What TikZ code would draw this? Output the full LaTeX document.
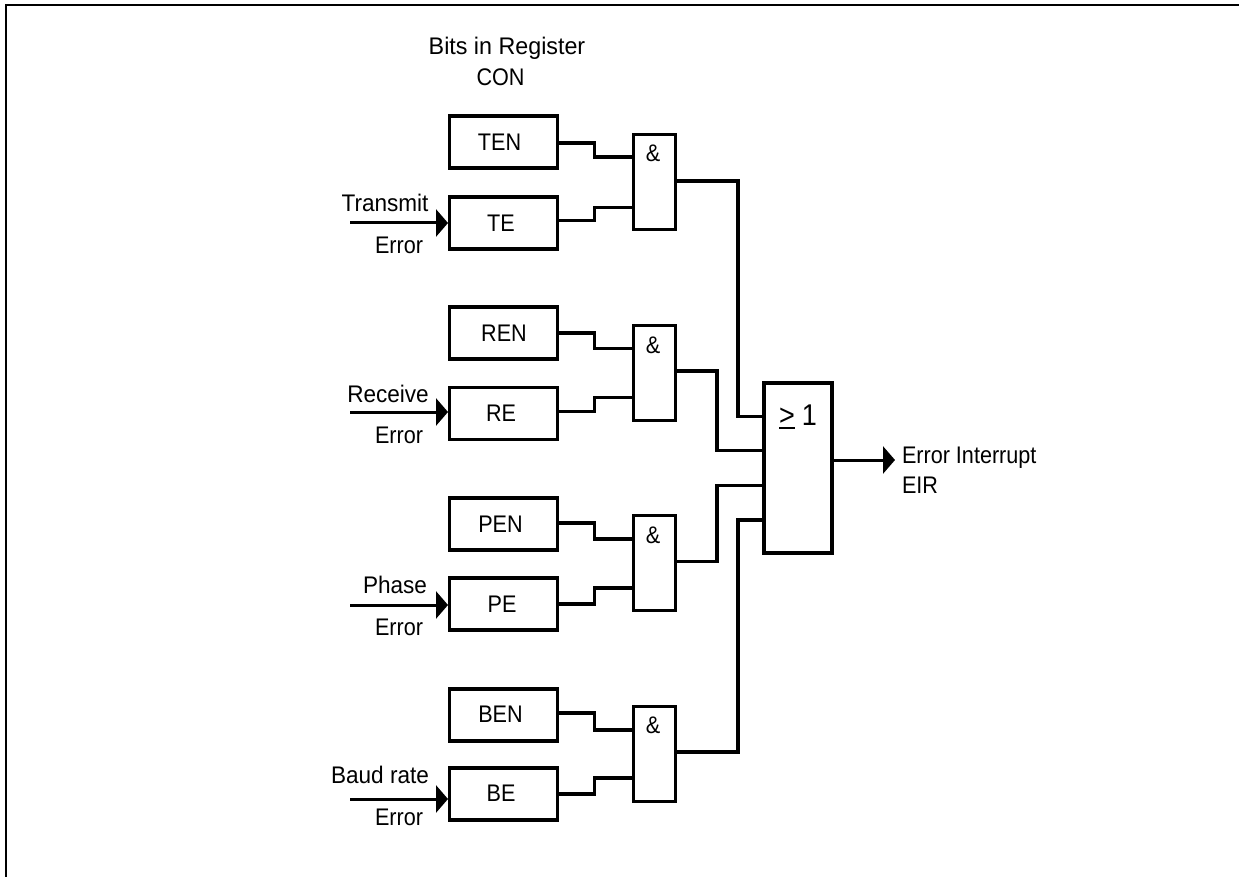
\documentclass[tikz,border=0pt]{standalone}
\usepackage{fontspec}
\setmainfont[FakeStretch=0.9]{Liberation Sans}
\newfontfamily\labfont[FakeStretch=0.94]{Liberation Sans}
\newfontfamily\titlefont[FakeStretch=0.97]{Liberation Sans}
\usetikzlibrary{arrows.meta}
\newcommand{\regtext}[3]{\hspace*{#1pt}\raisebox{#2pt}{#3}}
\tikzset{
  x=1pt,y=-1pt,
  reg/.style={draw,line width=3.5pt,minimum width=108pt,minimum height=52pt,inner sep=0pt,outer sep=0pt,font=\fontsize{24}{28}\selectfont},
  gate/.style={draw,line width=3.5pt,minimum width=42pt,minimum height=95pt,inner sep=0pt,outer sep=0pt},
  orgate/.style={draw,line width=3.5pt,minimum width=68pt,minimum height=170pt,inner sep=0pt,outer sep=0pt},
  wire/.style={line width=3.5pt,line join=miter},
  inarrow/.style={line width=3pt,-{Triangle[length=12pt,width=27pt]}},
  lab/.style={inner sep=0pt,outer sep=0pt,anchor=base,font=\fontsize{24}{28}\selectfont},
  inlab/.style={lab,font=\fontsize{24}{28}\labfont},
  titlelab/.style={lab,font=\fontsize{24}{28}\titlefont},
  leftlab/.style={lab,anchor=base west},
  frameline/.style={line width=2pt}
}
\begin{document}
\begin{tikzpicture}
\useasboundingbox (0,0) rectangle (1239,877);
\coordinate (fa) at (6,877);
\coordinate (fb) at (6,5);
\coordinate (fc) at (1239,5);
\draw[frameline] (fa) -- (fb) -- (fc);

\node[titlelab] (title1) at (507,55) {Bits in Register};
\node[lab] (title2) at (500.5,86) {CON};

\node[reg] (ten) at (503.5,142) {\regtext{-8}{-3.5}{TEN}};
\node[reg] (te)  at (503.5,223) {\regtext{-5}{-3.5}{TE}};
\node[reg] (ren) at (503.5,333) {\regtext{1}{-3.5}{REN}};
\node[reg] (re)  at (503.5,413.5) {\regtext{-5}{-3.5}{RE}};
\node[reg] (pen) at (503.5,524) {\regtext{-6}{-3.5}{PEN}};
\node[reg] (pe)  at (503.5,604) {\regtext{-3}{-3.5}{PE}};
\node[reg] (ben) at (503.5,715) {\regtext{-6}{1.5}{BEN}};
\node[reg] (be)  at (503.5,794) {\regtext{-5}{1}{BE}};

\node[gate] (g1) at (654.5,182) {};
\node[gate] (g2) at (654.5,373) {};
\node[gate] (g3) at (654.5,563) {};
\node[gate] (g4) at (654.5,754) {};
\node[lab] (amp1) at (653,162) {\&};
\node[lab] (amp2) at (653,353) {\&};
\node[lab] (amp3) at (653,543) {\&};
\node[lab] (amp4) at (653,733) {\&};

\node[orgate] (or) at (798,468) {};
\node[lab,anchor=base west,font=\fontsize{30}{34}\selectfont] (orlab) at (779,425) {\vtop{\hbox{>}\kern 2pt\hrule height 1.5pt}\hspace{7pt}1};

% register to gate connectors
\draw[wire] ([yshift=-1pt]ten.east) -- ++(37,0) |- ([yshift=25pt]g1.west);
\draw[wire] ([yshift=2.3pt]te.east) -- ++(37,0) |- ([yshift=-25.7pt]g1.west);
\draw[wire] (ren.east) -- ++(37,0) |- ([yshift=24.3pt]g2.west);
\draw[wire] ([yshift=1.8pt]re.east) -- ++(37,0) |- ([yshift=-24.7pt]g2.west);
\draw[wire] ([yshift=1pt]pen.east) -- ++(37,0) |- ([yshift=24pt]g3.west);
\draw[wire] (pe.east) -- ++(37,0) |- ([yshift=-25pt]g3.west);
\draw[wire] ([yshift=2pt]ben.east) -- ++(37,0) |- ([yshift=24pt]g4.west);
\draw[wire] (be.east) -- ++(37,0) |- ([yshift=-24pt]g4.west);

% gate to OR connectors
\coordinate (or1) at (or.west |- 0,416.5);
\coordinate (or2) at (or.west |- 0,450.5);
\coordinate (or3) at (or.west |- 0,485.5);
\coordinate (or4) at (or.west |- 0,520);
\draw[wire] ([yshift=1pt]g1.east) -- (738,181) |- (or1);
\draw[wire] ([yshift=2pt]g2.east) -- (717,371) |- (or2);
\draw[wire] ([yshift=1.3pt]g3.east) -- (717,561.7) |- (or3);
\draw[wire] ([yshift=2pt]g4.east) -- (738,752) |- (or4);

% input arrows
\coordinate (in1) at (350,223);
\coordinate (in2) at (350,412);
\coordinate (in3) at (350,605);
\coordinate (in4) at (350,799);
\coordinate (tip1) at (448,223);
\coordinate (tip2) at (448,412);
\coordinate (tip3) at (448,605);
\coordinate (tip4) at (448,799);
\draw[inarrow] (in1) -- (tip1);
\draw[inarrow] (in2) -- (tip2);
\draw[inarrow] (in3) -- (tip3);
\draw[inarrow] (in4) -- (tip4);

\node[inlab] (l1a) at (385,212) {Transmit};
\node[lab] (l1b) at (399,254) {Error};
\node[inlab] (l2a) at (388,402) {Receive};
\node[lab] (l2b) at (399,443) {Error};
\node[inlab] (l3a) at (395,593) {Phase};
\node[lab] (l3b) at (399,635) {Error};
\node[inlab] (l4a) at (380,783) {Baud rate};
\node[lab] (l4b) at (399,825) {Error};

% output
\coordinate (out) at (895,460);
\draw[inarrow] (or.east |- out) -- (out);
\node[leftlab] (o1) at (902,463) {Error Interrupt};
\node[leftlab] (o2) at (902,493) {EIR};
\end{tikzpicture}
\end{document}
